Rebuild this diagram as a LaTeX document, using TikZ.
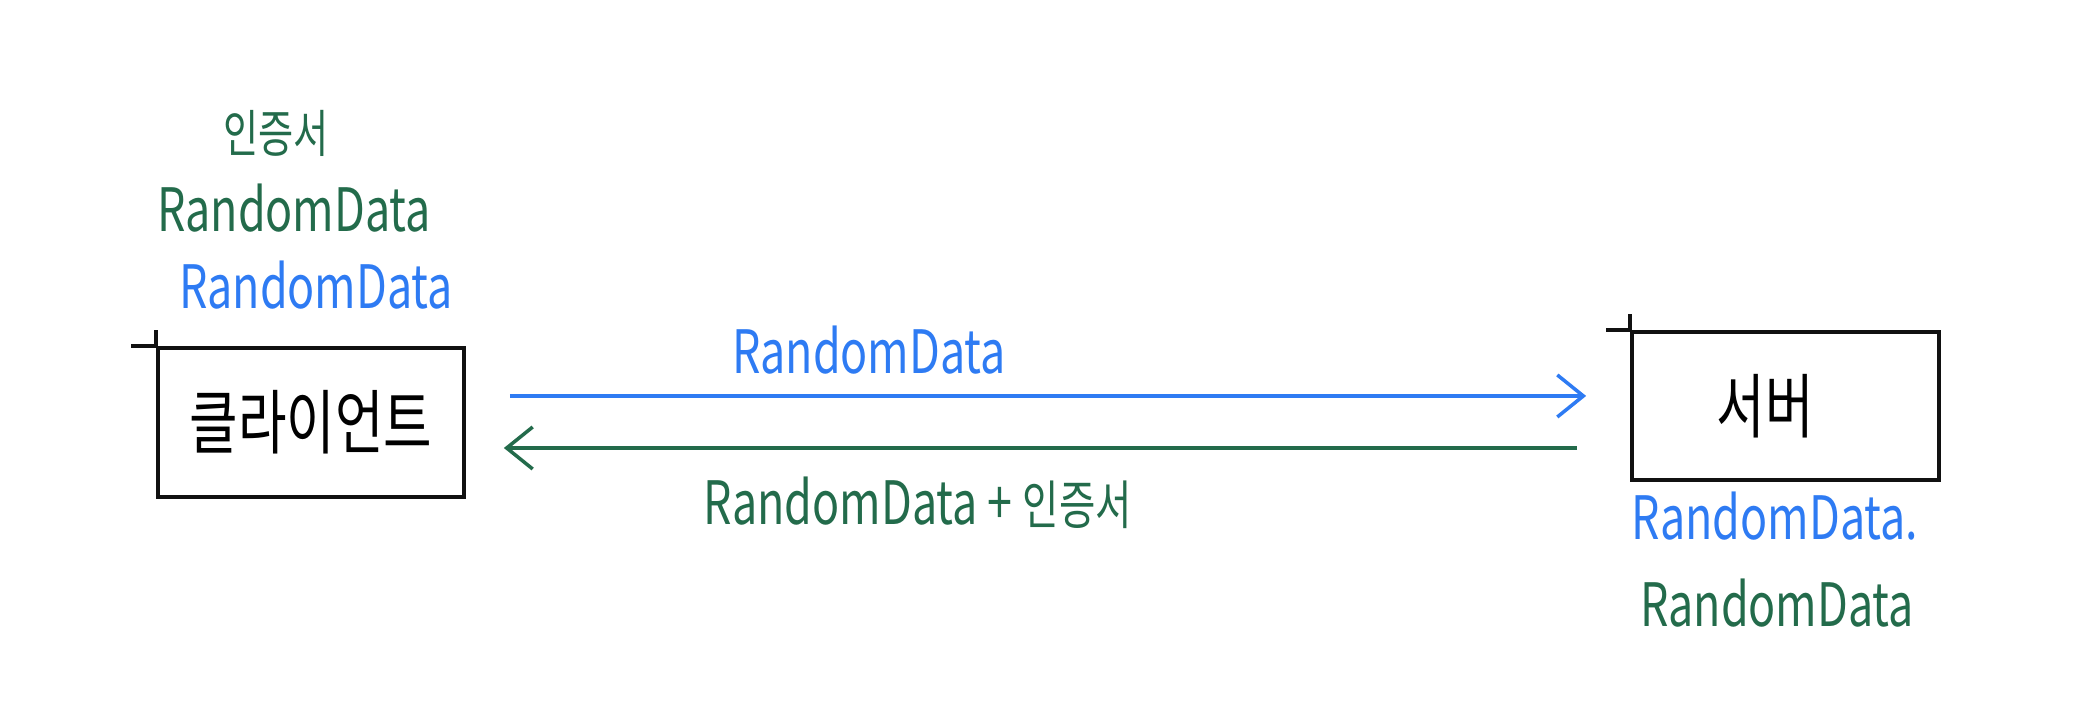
\documentclass[tikz,border=0pt]{standalone}
\usepackage{fontspec}
\setmainfont{Noto Sans CJK KR}[FakeStretch=0.75]
\usepackage{tikz}
\usetikzlibrary{arrows.meta,positioning}
\definecolor{penblue}{HTML}{2E7BF3}
\definecolor{pengreen}{HTML}{236B4B}
\definecolor{penink}{HTML}{111111}
\tikzset{
  host/.style={draw=penink,line width=1pt,inner sep=0pt,font=\fontsize{20}{24}\selectfont},
  tick/.style={draw=penink,line width=1pt},
  bluetxt/.style={text=penblue,inner sep=0pt,font=\fontsize{17}{21}\selectfont},
  greentxt/.style={text=pengreen,inner sep=0pt,font=\fontsize{17}{21}\selectfont},
  msg/.style={line width=1pt,-{Straight Barb[length=2.6mm,width=4.2mm,line width=1pt]}},
}
\begin{document}
\begin{tikzpicture}[x=0.01cm,y=0.01cm]
  \useasboundingbox (0,0) rectangle (2084,704);
  % the two ends of the exchange
  \node[host,minimum width=3.06cm,minimum height=1.49cm] (client) at (311,281.5) {클라이언트};
  \node[host,minimum width=3.07cm,minimum height=1.48cm] (server) at (1785.5,298) {\hspace{-4mm}서버};
  \draw[tick] (client.north west) -- ++(-25,0) (client.north west) -- ++(0,16);
  \draw[tick] (server.north west) -- ++(-24,0) (server.north west) -- ++(0,16);
  % what the client keeps
  \node[greentxt,font=\fontsize{14.5}{17}\selectfont] (cert) at (276,571) {인증서};
  \node[greentxt] (cdata) at (294,496) {RandomData};
  \node[bluetxt] (cdatab) at (316,419) {RandomData};
  % what the server keeps
  \node[bluetxt] (sdatab) at (1775,188) {RandomData.};
  \node[greentxt] (sdata) at (1777,101) {RandomData};
  % messages
  \coordinate (up) at ([yshift=2.65mm]client.east);
  \coordinate (dn) at ([yshift=-2.55mm]client.east);
  \draw[msg,penblue,shorten <=4.4mm,shorten >=4.4mm] (up) -- (up -| server.west);
  \draw[msg,pengreen,shorten <=5.3mm,shorten >=3.8mm] (dn -| server.west) -- (dn);
  \node[bluetxt] (hello) at (869,354) {RandomData};
  \node[greentxt] (reply) at (918,201) {RandomData + \fontsize{15}{18}\selectfont 인증서};
\end{tikzpicture}
\end{document}
